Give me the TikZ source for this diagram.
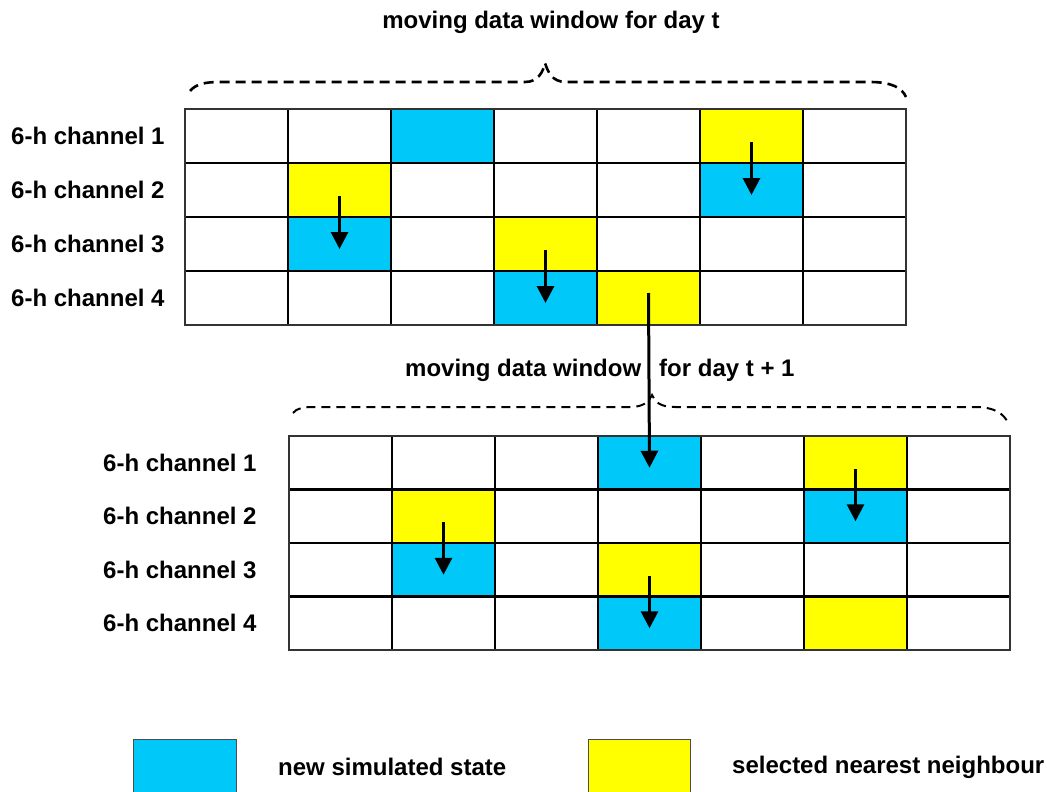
\documentclass[tikz,border=0pt]{standalone}
\usepackage{fontspec}
\setmainfont{Liberation Sans}
\usetikzlibrary{arrows.meta}
\definecolor{cb}{RGB}{0,200,248}
\definecolor{cy}{RGB}{255,255,0}
\begin{document}
\begin{tikzpicture}[x=1pt,y=-1pt,
  cell/.style={minimum width=103pt,minimum height=54pt,inner sep=0pt,outer sep=0pt},
  gridline/.style={black,line width=2.2pt},
  gridframe/.style={black!80,line width=1.2pt},
  lbl/.style={font=\fontsize{24}{28}\selectfont\bfseries,inner sep=0pt,anchor=west},
  ttl/.style={font=\fontsize{24}{28}\selectfont\bfseries,inner sep=0pt},
  brace/.style={dash pattern=on 10pt off 6pt,line width=2.6pt},
  arr/.style={line width=3pt,-{Triangle[width=17pt,length=17pt]}},
  legbox/.style={draw=black!70,line width=1pt,minimum width=103pt,minimum height=53pt,inner sep=0pt}]
\useasboundingbox (0,0) rectangle (1047,792);
\fill[white] (0,0) rectangle (1047,792);

% ---------- top grid ----------
\foreach \r/\cols in {1/{white,white,cb,white,white,cy,white},
                      2/{white,cy,white,white,white,cb,white},
                      3/{white,cb,white,cy,white,white,white},
                      4/{white,white,white,cb,cy,white,white}}{
  \foreach \f [count=\c] in \cols {
    \node[cell,fill=\f] (t-\r-\c) at ({185+103*(\c-0.5)},{109+54*(\r-0.5)}) {};
  }
}
\foreach \r in {1,2,3}{\draw[gridline] (t-\r-1.south west) -- (t-\r-7.south east);}
\foreach \c in {1,...,6}{\draw[gridline] (t-1-\c.north east) -- (t-4-\c.south east);}
\draw[gridframe] (t-1-1.north west) rectangle (t-4-7.south east);

% ---------- bottom grid ----------
\foreach \r/\cols in {1/{white,white,white,cb,white,cy,white},
                      2/{white,cy,white,white,white,cb,white},
                      3/{white,cb,white,cy,white,white,white},
                      4/{white,white,white,cb,white,cy,white}}{
  \foreach \f [count=\c] in \cols {
    \node[cell,fill=\f,minimum height=53.5pt] (b-\r-\c) at ({289+103*(\c-0.5)},{436+53.5*(\r-0.5)}) {};
  }
}
\foreach \r in {1,2,3}{\draw[gridline] (b-\r-1.south west) -- (b-\r-7.south east);}
\foreach \c in {1,...,6}{\draw[gridline] (b-1-\c.north east) -- (b-4-\c.south east);}
\draw[gridframe] (b-1-1.north west) rectangle (b-4-7.south east);

% ---------- row labels ----------
\foreach \r in {1,...,4}{
  \node[lbl] (tl-\r) at (11,{109+54*(\r-0.5)}) {6-h channel \r};
  \node[lbl] (bl-\r) at (103,{436+53.5*(\r-0.5)}) {6-h channel \r};
}

% ---------- titles ----------
\node[ttl] (ttop) at (551,22) {moving data window for day t};
\node[ttl,anchor=west] (tbot1) at (405,370) {moving data window};
\node[ttl,anchor=west] (tbot2) at (659,370) {for day t + 1};

% ---------- braces ----------
\draw[brace] (190,91) .. controls (196,84) and (205,82) .. (220,82) -- (525,82)
  .. controls (538,82) and (543,72) .. (545,63) .. controls (548,72) and (552,82) .. (566,82)
  -- (870,82) .. controls (892,82) and (902,88) .. (906,97);
\draw[brace,line width=2pt,dash pattern=on 9pt off 6pt] (293,413) .. controls (297,408) and (303,407) .. (315,407) -- (630,407)
  .. controls (643,407) and (649,402) .. (652,395) .. controls (655,402) and (660,407) .. (675,407)
  -- (975,407) .. controls (995,407) and (1004,414) .. (1008,423);

% ---------- arrows ----------
\draw[arr] ([yshift=-6pt]t-2-2.center) -- ([yshift=-5pt]t-3-2.center);
\draw[arr] ([yshift=-6pt]t-1-6.center) -- ([yshift=-5pt]t-2-6.center);
\draw[arr] ([yshift=-6pt]t-3-4.center) -- ([yshift=-5pt]t-4-4.center);
\draw[arr] ([yshift=5pt]t-4-5.center) -- ([yshift=-5pt]b-1-4.center);
\draw[arr] ([yshift=-6pt]b-2-2.center) -- ([yshift=-5pt]b-3-2.center);
\draw[arr] ([yshift=-6pt]b-1-6.center) -- ([yshift=-5pt]b-2-6.center);
\draw[arr] ([yshift=-6pt]b-3-4.center) -- ([yshift=-5pt]b-4-4.center);

% ---------- legend ----------
\node[legbox,fill=cb] (lb) at (185,765.5) {};
\node[lbl] (lbt) at (278,767) {new simulated state};
\node[legbox,fill=cy,minimum width=102pt] (ly) at (639,765.5) {};
\node[lbl] (lyt) at (732,767) {selected nearest neighbour};
\end{tikzpicture}
\end{document}
